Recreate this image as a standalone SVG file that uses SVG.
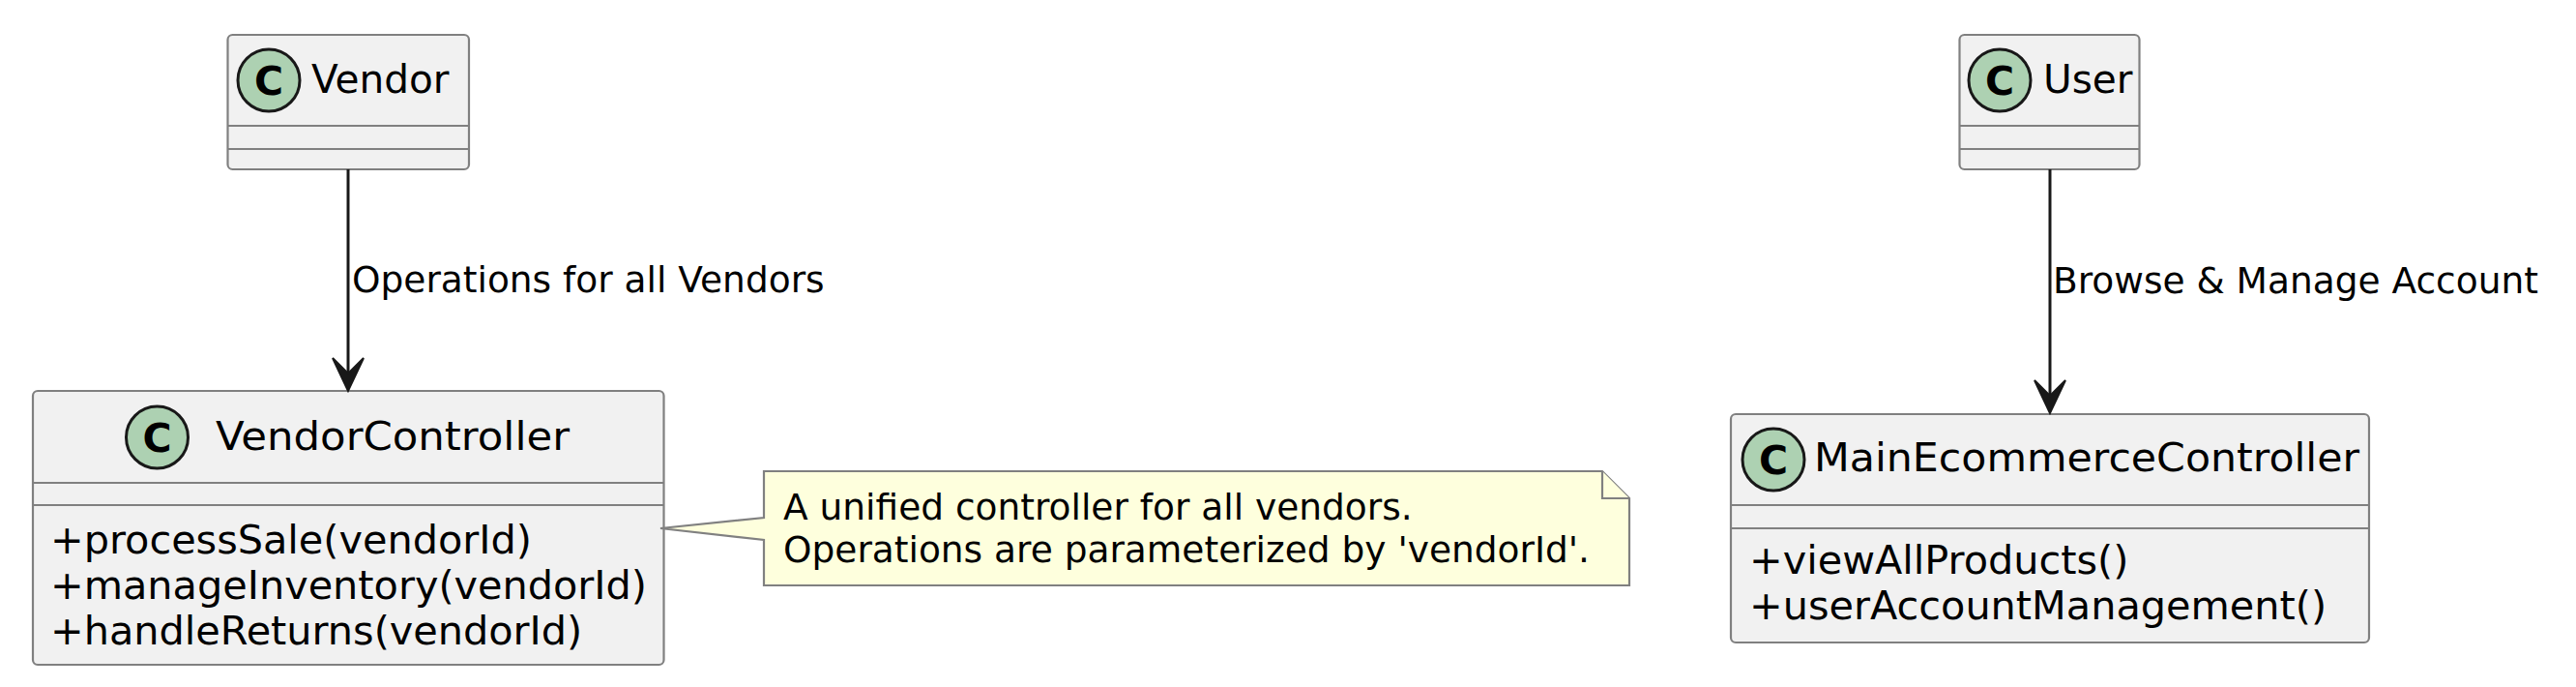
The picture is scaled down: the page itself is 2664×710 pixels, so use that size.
<svg xmlns="http://www.w3.org/2000/svg" width="2664" height="710" viewBox="0 0 2664 710">
<defs>
<style>
.box{fill:#F1F1F1;stroke:#808080;stroke-width:2.2}
.sep{stroke:#808080;stroke-width:2.2}
.spot{fill:#ADD1B2;stroke:#181818;stroke-width:3}
.spotc{font-family:"DejaVu Sans",sans-serif;font-weight:bold;font-size:41px;fill:#000;text-anchor:middle}
.title{font-family:"DejaVu Sans",sans-serif;font-size:40.6px;fill:#000}
.mem{font-family:"DejaVu Sans",sans-serif;font-size:41.4px;fill:#000}
.lbl{font-family:"DejaVu Sans",sans-serif;font-size:37.5px;fill:#000}
.edge{stroke:#181818;stroke-width:3;fill:none}
.head{fill:#181818;stroke:#181818;stroke-width:2}
.note{fill:#FEFFDD;stroke:#808080;stroke-width:2.2}
</style>
</defs>
<rect width="2664" height="710" fill="#FFFFFF"/>
<g id="Vendor">
<rect class="box" x="235.5" y="36" width="249.5" height="139" rx="5"/>
<line class="sep" x1="235.5" y1="130" x2="485" y2="130"/>
<line class="sep" x1="235.5" y1="154" x2="485" y2="154"/>
<circle class="spot" cx="278" cy="83" r="32"/>
<text class="spotc" x="278" y="98">C</text>
<text class="title" x="322" y="96">Vendor</text>
</g>
<g id="User">
<rect class="box" x="2026.5" y="36" width="186" height="139" rx="5"/>
<line class="sep" x1="2026.5" y1="130" x2="2212.5" y2="130"/>
<line class="sep" x1="2026.5" y1="154" x2="2212.5" y2="154"/>
<circle class="spot" cx="2068" cy="83" r="32"/>
<text class="spotc" x="2068" y="98">C</text>
<text class="title" x="2113" y="96">User</text>
</g>
<g id="VendorController">
<rect class="box" x="34" y="404" width="652.5" height="283" rx="5"/>
<line class="sep" x1="34" y1="499" x2="686.5" y2="499"/>
<line class="sep" x1="34" y1="522" x2="686.5" y2="522"/>
<circle class="spot" cx="162.5" cy="452" r="32"/>
<text class="spotc" x="162.5" y="467">C</text>
<text class="title" x="223" y="465" textLength="366" lengthAdjust="spacingAndGlyphs">VendorController</text>
<text class="mem" x="52" y="572">+processSale(vendorId)</text>
<text class="mem" x="52" y="619">+manageInventory(vendorId)</text>
<text class="mem" x="52" y="666">+handleReturns(vendorId)</text>
</g>
<g id="MainEcommerceController">
<rect class="box" x="1790" y="428" width="660" height="236" rx="5"/>
<line class="sep" x1="1790" y1="522" x2="2450" y2="522"/>
<line class="sep" x1="1790" y1="546" x2="2450" y2="546"/>
<circle class="spot" cx="1834" cy="475" r="32"/>
<text class="spotc" x="1834" y="490">C</text>
<text class="title" x="1876" y="487" textLength="564" lengthAdjust="spacingAndGlyphs">MainEcommerceController</text>
<text class="mem" x="1809" y="593">+viewAllProducts()</text>
<text class="mem" x="1809" y="640">+userAccountManagement()</text>
</g>
<g id="note">
<path class="note" d="M790,487 L1657,487 L1685,515 L1685,605 L790,605 L790,558 L683,546 L790,535 Z"/>
<path class="note" d="M1657,487 L1657,515 L1685,515"/>
<text class="lbl" x="810" y="537">A unified controller for all vendors.</text>
<text class="lbl" x="810" y="581">Operations are parameterized by 'vendorId'.</text>
</g>
<g id="connectors">
<line class="edge" x1="360" y1="175" x2="360" y2="392"/>
<polygon class="head" points="360,404 344,370 360,386 376,370"/>
<text class="lbl" x="364" y="302">Operations for all Vendors</text>
<line class="edge" x1="2120" y1="175" x2="2120" y2="415"/>
<polygon class="head" points="2120,427 2104,393 2120,409 2136,393"/>
<text class="lbl" x="2123" y="303">Browse &amp; Manage Account</text>
</g>
</svg>
